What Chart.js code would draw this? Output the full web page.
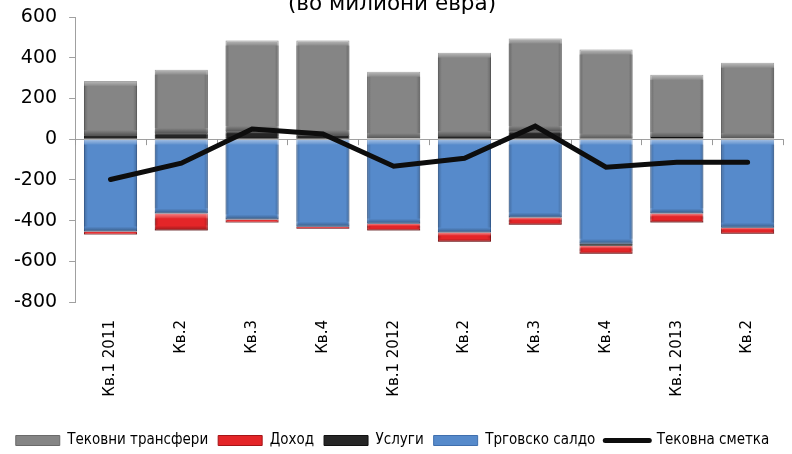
<!DOCTYPE html>
<html>
<head>
<meta charset="utf-8">
<script src="https://cdn.jsdelivr.net/npm/chart.js@4/dist/chart.umd.min.js"></script>
<style>
  html, body { margin: 0; padding: 0; background: #fff; overflow: hidden; }
  #wrap { width: 792px; height: 458px; position: relative; }
</style>
</head>
<body>
<div id="wrap"><canvas id="bopChart"></canvas></div>
<script>
// quarters and components of the current account (mil. EUR)
const quarters = ['Кв.1 2011', 'Кв.2', 'Кв.3', 'Кв.4', 'Кв.1 2012', 'Кв.2', 'Кв.3', 'Кв.4', 'Кв.1 2013', 'Кв.2'];
const tradeBalance = [-454, -365, -395, -430, -415, -459, -385, -514, -365, -435];
const services = [20, 30, 40, 20, 5, 15, 40, -10, 10, 5];
const income = [-15, -84, -15, -10, -34, -45, -35, -39, -45, -30];
const transfers = [266, 311, 444, 464, 326, 410, 454, 440, 306, 370];
const currentAccount = [-198, -118, 50, 25, -133, -94, 64, -138, -113, -113];
const yTicks = [-800, -600, -400, -200, 0, 200, 400, 600];

const fontName = '"DejaVu Sans", Verdana, sans-serif';

// subtitle, top line is cut off in the original
const titlePlugin = {
    id: 'subTitle',
    afterDraw(chart) {
        const ctx = chart.ctx;
        ctx.save();
        ctx.font = '21.5px ' + fontName;
        ctx.fillStyle = '#000';
        ctx.textAlign = 'center';
        ctx.textBaseline = 'alphabetic';
        ctx.fillText('(во милиони евра)', 392, 10);
        ctx.restore();
    }
};

// small tick marks on the zero line between categories
const zeroTicks = {
    id: 'zeroTicks',
    beforeDatasetsDraw(chart) {
        const x = chart.scales.x, y = chart.scales.y;
        const y0 = y.getPixelForValue(0);
        const step = x.width / quarters.length;
        const ctx = chart.ctx;
        ctx.save();
        ctx.strokeStyle = '#999';
        ctx.lineWidth = 1;
        ctx.beginPath();
        for (let i = 0; i <= quarters.length; i++) {
            const px = Math.round(x.left + i * step) + 0.5;
            ctx.moveTo(px, y0);
            ctx.lineTo(px, y0 + 6);
        }
        ctx.stroke();
        ctx.restore();
    }
};

// rough imitation of the excel bevel on the bars
const bevel = {
    id: 'bevel',
    afterDatasetDraw(chart, args) {
        if (args.meta.type !== 'bar') return;
        const ctx = chart.ctx;
        ctx.save();
        args.meta.data.forEach(bar => {
            const p = bar.getProps(['x', 'y', 'base', 'width'], true);
            const top = Math.min(p.y, p.base), bottom = Math.max(p.y, p.base);
            const left = p.x - p.width / 2, right = p.x + p.width / 2;
            const h = bottom - top;
            if (h < 2) return;
            const e = Math.min(5, h / 3);
            // light top band
            let g = ctx.createLinearGradient(0, top, 0, top + e);
            g.addColorStop(0, 'rgba(255,255,255,0.45)');
            g.addColorStop(1, 'rgba(255,255,255,0.05)');
            ctx.fillStyle = g;
            ctx.fillRect(left, top, p.width, e);
            // dark bottom band
            g = ctx.createLinearGradient(0, bottom - e, 0, bottom);
            g.addColorStop(0, 'rgba(0,0,0,0)');
            g.addColorStop(1, 'rgba(0,0,0,0.35)');
            ctx.fillStyle = g;
            ctx.fillRect(left, bottom - e, p.width, e);
            // side edges
            g = ctx.createLinearGradient(left, 0, left + 4, 0);
            g.addColorStop(0, 'rgba(0,0,0,0.22)');
            g.addColorStop(1, 'rgba(0,0,0,0)');
            ctx.fillStyle = g;
            ctx.fillRect(left, top + e, 4, h - 2 * e);
            g = ctx.createLinearGradient(right - 4, 0, right, 0);
            g.addColorStop(0, 'rgba(0,0,0,0)');
            g.addColorStop(1, 'rgba(0,0,0,0.22)');
            ctx.fillStyle = g;
            ctx.fillRect(right - 4, top + e, 4, h - 2 * e);
        });
        ctx.restore();
    }
};

const legendRank = [3, 2, 1, 0, 4];

new Chart(document.getElementById('bopChart'), {
    type: 'bar',
    data: {
        labels: quarters,
        datasets: [
            {
                label: 'Трговско салдо',
                data: tradeBalance,
                backgroundColor: '#568ACB',
                borderColor: '#3F6FAE',
                borderWidth: 1,
                stack: 'bop'
            },
            {
                label: 'Услуги',
                data: services,
                backgroundColor: '#262626',
                borderColor: '#111',
                borderWidth: 1,
                stack: 'bop'
            },
            {
                label: 'Доход',
                data: income,
                backgroundColor: '#E42528',
                borderColor: '#A51518',
                borderWidth: 1,
                stack: 'bop'
            },
            {
                label: 'Тековни трансфери',
                data: transfers,
                backgroundColor: '#858585',
                borderColor: '#6A6A6A',
                borderWidth: 1,
                stack: 'bop'
            },
            {
                type: 'line',
                label: 'Тековна сметка',
                data: currentAccount,
                borderColor: '#0D0D0D',
                backgroundColor: '#0D0D0D',
                borderWidth: 5,
                pointRadius: 0,
                tension: 0,
                borderCapStyle: 'round',
                stack: 'ca',
                order: -1
            }
        ]
    },
    options: {
        responsive: true,
        maintainAspectRatio: false,
        animation: false,
        layout: { padding: { top: 0, right: 9, left: 2, bottom: 0 } },
        datasets: {
            bar: { categoryPercentage: 1, barPercentage: 0.75 }
        },
        scales: {
            x: {
                stacked: true,
                grid: { display: false },
                border: { display: false },
                afterFit: scale => { scale.height = 121; },
                ticks: {
                    minRotation: 90,
                    maxRotation: 90,
                    padding: 10,
                    color: '#000',
                    font: { family: fontName, size: 15 }
                }
            },
            y: {
                stacked: true,
                min: -800,
                max: 600,
                afterBuildTicks: axis => { axis.ticks = yTicks.map(v => ({ value: v })); },
                afterFit: scale => { scale.paddingTop = 17; },
                grid: {
                    drawOnChartArea: true,
                    color: c => (c.tick && c.tick.value === 0) ? '#A0A0A0' : 'rgba(0,0,0,0)',
                    tickColor: '#A0A0A0',
                    tickLength: 6
                },
                border: { display: true, color: '#A0A0A0' },
                ticks: {
                    padding: 12,
                    color: '#000',
                    font: { family: fontName, size: 19 }
                }
            }
        },
        plugins: {
            legend: {
                position: 'bottom',
                labels: {
                    usePointStyle: true,
                    pointStyleWidth: 44,
                    boxHeight: 10,
                    padding: 10,
                    color: '#000',
                    font: { family: '"DejaVu Sans Condensed", "Liberation Sans Narrow", "DejaVu Sans", sans-serif', size: 15 },
                    generateLabels(chart) {
                        const items = Chart.defaults.plugins.legend.labels.generateLabels(chart);
                        return items.map(it => {
                            if (it.datasetIndex === 4) {
                                it.pointStyle = 'line';
                                it.lineWidth = 5;
                                it.lineCap = 'round';
                                it.strokeStyle = '#0D0D0D';
                            } else {
                                it.pointStyle = 'rect';
                                it.lineWidth = 1;
                            }
                            return it;
                        });
                    },
                    sort: (a, b) => legendRank[a.datasetIndex] - legendRank[b.datasetIndex]
                }
            },
            tooltip: { enabled: false }
        }
    },
    plugins: [titlePlugin, zeroTicks, bevel]
});
</script>
</body>
</html>
